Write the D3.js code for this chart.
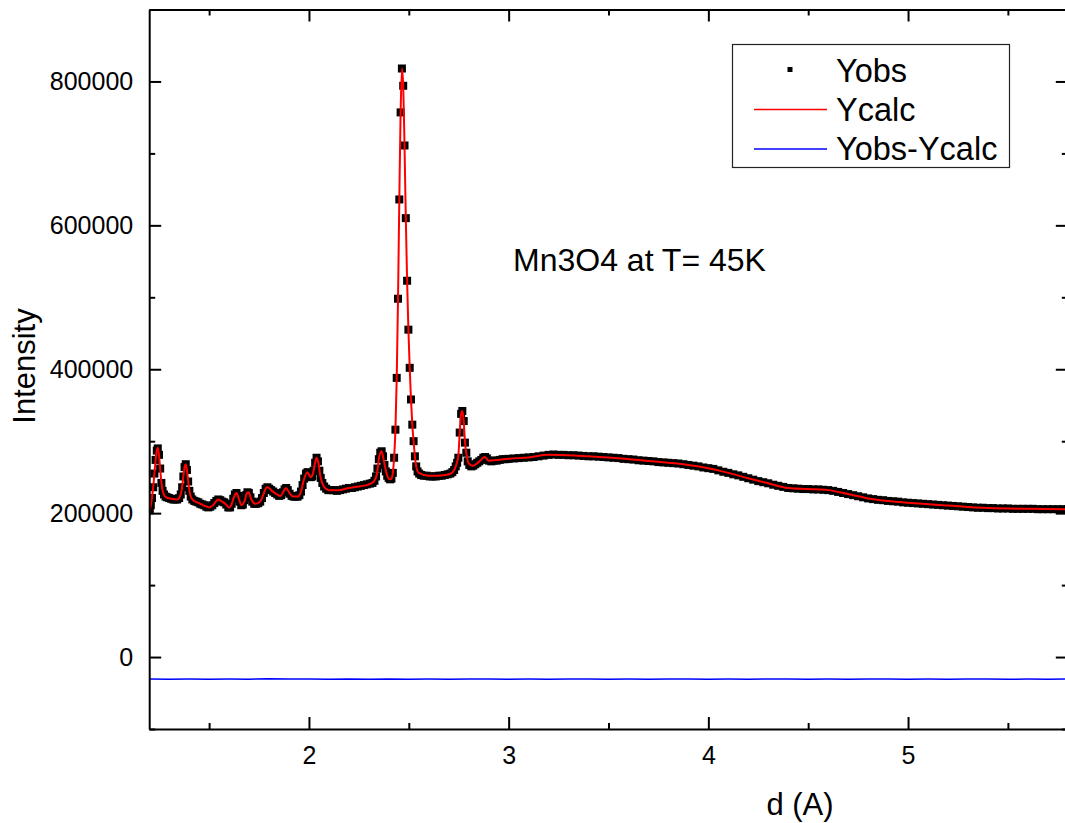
<!DOCTYPE html>
<html>
<head>
<meta charset="utf-8">
<script src="https://cdn.jsdelivr.net/npm/d3@7"></script>
<style>
  body { margin: 0; background: #fff; }
  text { font-family: "Liberation Sans", Arial, sans-serif; }
</style>
</head>
<body>
<div id="chart"></div>
<script>
// intensities are in units of 1000 counts, d in Angstrom
var yObs = [
  [1.203,204],[1.208,211],[1.214,221],[1.22,236],[1.226,255],[1.232,274],[1.238,287],[1.243,290],[1.249,281],[1.255,262],
  [1.261,242],[1.267,231],[1.274,226],[1.282,223],[1.29,222],[1.3,221],[1.31,220],[1.32,219],[1.33,219],[1.34,219],
  [1.35,221],[1.358,226],[1.365,236],[1.371,251],[1.377,264],[1.383,268],[1.389,260],[1.395,244],[1.401,231],[1.408,223],
  [1.416,219],[1.426,217],[1.436,216],[1.446,215],[1.456,213],[1.466,212],[1.476,211],[1.486,209],[1.496,208],[1.506,209],
  [1.516,211],[1.526,214],[1.536,217],[1.546,219],[1.556,218],[1.566,216],[1.576,215],[1.586,212],[1.596,208],[1.605,208],
  [1.613,213],[1.621,220],[1.629,226],[1.637,228],[1.645,224],[1.653,216],[1.661,211],[1.669,212],[1.677,218],[1.685,225],
  [1.692,229],[1.699,228],[1.707,222],[1.716,216],[1.726,213],[1.736,213],[1.746,214],[1.756,216],[1.765,221],[1.774,228],
  [1.783,234],[1.792,236],[1.801,234],[1.811,232],[1.821,230],[1.831,228],[1.841,226],[1.851,224],[1.861,225],[1.87,229],
  [1.878,233],[1.886,235],[1.894,232],[1.903,227],[1.913,224],[1.923,223],[1.933,223],[1.943,223],[1.952,225],[1.96,230],
  [1.968,239],[1.976,248],[1.985,255],[1.993,257],[2.001,254],[2.009,250],[2.017,251],[2.024,259],[2.031,270],[2.038,277],
  [2.045,272],[2.052,259],[2.059,249],[2.067,242],[2.076,237],[2.086,234],[2.097,232],[2.11,232],[2.125,232],[2.14,231],
  [2.155,232],[2.17,233],[2.185,234],[2.2,235],[2.215,235],[2.23,236],[2.245,237],[2.26,238],[2.275,239],[2.29,240],
  [2.305,241],[2.318,242],[2.328,245],[2.336,251],[2.343,262],[2.35,275],[2.357,284],[2.364,286],[2.371,279],[2.378,267],
  [2.385,258],[2.392,252],[2.399,249],[2.406,247],[2.413,248],[2.42,256],[2.4265,277],[2.433,316],[2.4395,388],[2.446,498],
  [2.4525,636],[2.459,757],[2.4655,818],[2.472,794],[2.4785,711],[2.485,610],[2.4915,523],[2.498,455],[2.5045,402],[2.511,358],
  [2.5175,323],[2.524,300],[2.5305,279],[2.537,265],[2.544,258],[2.552,255],[2.562,253],[2.575,252],[2.59,252],[2.605,251],
  [2.62,251],[2.635,251],[2.65,252],[2.665,252],[2.68,253],[2.695,254],[2.708,255],[2.718,257],[2.727,260],[2.735,265],
  [2.742,270],[2.748,277],[2.755,312],[2.762,338],[2.768,342],[2.775,328],[2.781,298],[2.788,284],[2.795,272],[2.803,267],
  [2.813,265],[2.823,266],[2.833,268],[2.843,270],[2.853,272],[2.863,274],[2.873,277],[2.882,278],[2.891,276],[2.901,273],
  [2.913,272],[2.926,273],[2.94,273],[2.955,274],[2.97,275],[2.985,275],
  [3.0,275.5],[3.025,276],[3.05,276.5],[3.075,277],[3.1,277.5],[3.125,278],[3.15,279],[3.175,280],[3.2,281],[3.225,281.5],
  [3.25,281],[3.275,281],[3.3,280.5],[3.325,280.5],[3.35,280],[3.375,279.5],[3.4,279],[3.425,279],[3.45,278.5],[3.475,278],
  [3.5,277.5],[3.525,277],[3.55,276.5],[3.575,275.5],[3.6,275],[3.625,274.5],[3.65,273.5],[3.675,273],[3.7,272.5],[3.725,272],
  [3.75,271],[3.775,270.5],[3.8,270],[3.825,269.5],[3.85,269],[3.875,268],[3.9,267],[3.925,266],[3.95,265],[3.975,263.5],
  [4.0,262.5],[4.025,261.5],[4.05,259.5],[4.075,257.5],[4.1,256],[4.125,254],[4.15,252.5],[4.175,250.5],[4.2,248.5],[4.225,246.5],
  [4.25,244.5],[4.275,243],[4.3,241.5],[4.325,239.5],[4.35,238],[4.375,236.5],[4.4,235],[4.425,234.5],[4.45,234],[4.475,233.5],
  [4.5,233.5],[4.525,233],[4.55,233],[4.575,232.5],[4.6,232],[4.625,231],[4.65,229.5],[4.675,228],[4.7,226.5],[4.725,225],
  [4.75,223.5],[4.775,222],[4.8,220.5],[4.825,219.5],[4.85,218.5],[4.875,218],[4.9,217],[4.925,216.5],[4.95,216],[4.975,215],
  [5.0,214.5],[5.025,214],[5.05,213.5],[5.075,213],[5.1,212.5],[5.125,212],[5.15,211.5],[5.175,211],[5.2,210.5],[5.225,210],
  [5.25,209.5],[5.275,209],[5.3,208.5],[5.325,208],[5.35,207.5],[5.375,207.5],[5.4,207],[5.425,207],[5.45,206.5],[5.475,206.5],
  [5.5,206.5],[5.525,206],[5.55,206],[5.575,206],[5.6,206],[5.625,206],[5.65,205.5],[5.675,205.5],[5.7,205.5],[5.725,205.5],
  [5.75,205.5],[5.775,205.5],[5.8,205.5]
];

var yCalc = [
  [1.2,200],[1.21,214],[1.22,236],[1.23,267],[1.238,287],[1.243,291],[1.249,281],[1.256,258],[1.263,238],[1.272,227],
  [1.285,222],[1.31,220],[1.34,219],[1.352,222],[1.362,231],[1.371,251],[1.378,265],[1.383,268],[1.389,260],[1.397,240],
  [1.406,225],[1.42,218],[1.45,214],[1.48,210],[1.5,208],[1.52,211],[1.545,219],[1.565,216],[1.585,212],[1.6,208],
  [1.612,212],[1.625,223],[1.637,228],[1.65,219],[1.662,211],[1.675,215],[1.69,228],[1.698,229],[1.71,220],[1.73,213],
  [1.755,216],[1.772,226],[1.785,235],[1.793,236],[1.81,232],[1.84,226],[1.858,224],[1.872,230],[1.885,235],[1.9,229],
  [1.92,223],[1.945,223],[1.96,230],[1.975,247],[1.992,257],[2.008,250],[2.02,255],[2.03,269],[2.038,277],[2.047,270],
  [2.058,250],[2.075,237],[2.1,232],[2.15,232],[2.2,235],[2.25,237],[2.3,240],[2.325,244],[2.34,254],[2.352,278],
  [2.363,286],[2.373,276],[2.387,257],[2.403,247],[2.413,248],[2.42,256],[2.4265,277],[2.433,316],[2.4395,388],[2.446,498],
  [2.4525,636],[2.459,757],[2.4655,818],[2.472,794],[2.4785,711],[2.485,610],[2.4915,523],[2.498,455],[2.5045,402],[2.511,358],
  [2.5175,323],[2.524,300],[2.5305,279],[2.537,265],[2.55,256],[2.6,252],[2.65,252],[2.7,254],[2.72,257],[2.735,265],
  [2.748,280],[2.755,312],[2.762,338],[2.768,342],[2.775,328],[2.781,300],[2.79,280],[2.8,269],[2.82,266],[2.85,271],
  [2.88,278],[2.9,273],[2.95,274],[3.0,275.5],[3.1,277.5],[3.2,281],[3.3,280.5],[3.4,279],[3.5,277.5],[3.6,275],
  [3.7,272.5],[3.8,270],[3.9,267],[4.0,262.5],[4.1,256],[4.2,248.5],[4.3,241.5],[4.4,235],[4.5,233.5],[4.6,232],
  [4.7,226.5],[4.8,220.5],[4.9,217],[5.0,214.5],[5.2,210.5],[5.4,207],[5.6,206],[5.8,205.5]
];

var yDiff = [
  [1.2,-30.4],[1.3,-30.9],[1.4,-30.6],[1.5,-30.8],[1.6,-30.5],[1.7,-30.7],[1.8,-30.3],[1.9,-30.6],[2.0,-30.4],[2.1,-30.8],
  [2.2,-30.5],[2.3,-30.9],[2.4,-30.4],[2.5,-30.7],[2.6,-30.5],[2.7,-30.8],[2.8,-30.6],[2.9,-30.4],[3.0,-30.7],[3.1,-30.5],
  [3.2,-30.9],[3.3,-30.6],[3.4,-30.4],[3.5,-30.8],[3.6,-30.5],[3.7,-30.7],[3.8,-30.4],[3.9,-30.6],[4.0,-30.9],[4.1,-30.5],
  [4.2,-30.7],[4.3,-30.4],[4.4,-30.6],[4.5,-30.8],[4.6,-30.5],[4.7,-30.7],[4.8,-30.4],[4.9,-30.6],[5.0,-30.8],[5.1,-30.5],
  [5.2,-30.7],[5.3,-30.4],[5.4,-30.6],[5.5,-30.9],[5.6,-30.5],[5.7,-30.7],[5.8,-30.6]
];

var xMajorTicks = [2, 3, 4, 5];
var xMinorTicks = [1.5, 2.5, 3.5, 4.5, 5.5];
var yMajorTicks = [0, 200000, 400000, 600000, 800000];
var yMinorTicks = [-100000, 100000, 300000, 500000, 700000, 900000];

var legendItems = ["Yobs", "Ycalc", "Yobs-Ycalc"];
var annotation = "Mn3O4 at T= 45K";

var width = 1065, height = 823;
var plot = { left: 149.2, right: 1067.8, top: 9.5, bottom: 729 };

var svg = d3.select("#chart").append("svg")
    .attr("width", width)
    .attr("height", height);

var x = d3.scaleLinear().domain([1.2, 5.8]).range([plot.left, plot.right]);
var y = d3.scaleLinear().domain([-100000, 900000]).range([plot.bottom, plot.top]);

svg.append("clipPath").attr("id", "clip")
    .append("rect")
    .attr("x", plot.left).attr("y", plot.top)
    .attr("width", plot.right - plot.left).attr("height", plot.bottom - plot.top);

var dataG = svg.append("g").attr("clip-path", "url(#clip)");

// observed points, black squares
var sq = 8;
dataG.selectAll("rect.obs")
    .data(yObs)
    .enter()
    .append("rect")
    .attr("class", "obs")
    .attr("x", function (d) { return x(d[0]) - sq / 2; })
    .attr("y", function (d) { return y(d[1] * 1000) - sq / 2; })
    .attr("width", sq)
    .attr("height", sq)
    .attr("fill", "#000");

var line = d3.line()
    .x(function (d) { return x(d[0]); })
    .y(function (d) { return y(d[1] * 1000); })
    .curve(d3.curveMonotoneX);

dataG.append("path")
    .datum(yCalc)
    .attr("d", line)
    .attr("fill", "none")
    .attr("stroke", "#ff0000")
    .attr("stroke-width", 2);

dataG.append("path")
    .datum(yDiff)
    .attr("d", line.curve(d3.curveLinear))
    .attr("fill", "none")
    .attr("stroke", "#0000ff")
    .attr("stroke-width", 1.5);

// axes, ticks inside
var styleAxis = function (g) {
    g.select(".domain").attr("stroke", "#000").attr("stroke-width", 2);
    g.selectAll(".tick line").attr("stroke", "#000").attr("stroke-width", 2);
    g.selectAll("text")
        .attr("fill", "#000")
        .style("font-size", "25px");
};

var addAxis = function (gen, scale, majors, minors, tx, ty, pad) {
    var g = svg.append("g").attr("transform", "translate(" + tx + "," + ty + ")");
    g.call(gen(scale).tickValues(majors).tickSize(-12).tickSizeOuter(0)
        .tickPadding(pad || 0)
        .tickFormat(pad ? d3.format("d") : ""));
    styleAxis(g);
    var m = svg.append("g").attr("transform", "translate(" + tx + "," + ty + ")");
    m.call(gen(scale).tickValues(minors).tickSize(-6).tickSizeOuter(0).tickFormat(""));
    styleAxis(m);
    m.select(".domain").remove();
    return g;
};

var xb = addAxis(d3.axisBottom, x, xMajorTicks, xMinorTicks, 0, plot.bottom, 35);
xb.selectAll("text").attr("dy", "0");
addAxis(d3.axisTop, x, xMajorTicks, xMinorTicks, 0, plot.top, 0);
var yl = addAxis(d3.axisLeft, y, yMajorTicks, yMinorTicks, plot.left, 0, 16);
addAxis(d3.axisRight, y, yMajorTicks, yMinorTicks, plot.right, 0, 0);

// axis titles
svg.append("text")
    .attr("x", 800)
    .attr("y", 815)
    .attr("text-anchor", "middle")
    .style("font-size", "31px")
    .text("d (A)");

svg.append("text")
    .attr("transform", "translate(35,366) rotate(-90)")
    .attr("text-anchor", "middle")
    .style("font-size", "31px")
    .text("Intensity");

// annotation
svg.append("text")
    .attr("x", 513)
    .attr("y", 271)
    .style("font-size", "32px")
    .text(annotation);

// legend
var legend = svg.append("g");
legend.append("rect")
    .attr("x", 732.5).attr("y", 44.5)
    .attr("width", 277).attr("height", 123)
    .attr("fill", "#fff")
    .attr("stroke", "#222")
    .attr("stroke-width", 1.2);

legend.append("rect")
    .attr("x", 787.5).attr("y", 67)
    .attr("width", 5).attr("height", 5)
    .attr("fill", "#000");
legend.append("line")
    .attr("x1", 754).attr("x2", 827).attr("y1", 109.5).attr("y2", 109.5)
    .attr("stroke", "#ff0000").attr("stroke-width", 1.5);
legend.append("line")
    .attr("x1", 754).attr("x2", 827).attr("y1", 149).attr("y2", 149)
    .attr("stroke", "#0000ff").attr("stroke-width", 1.5);

var legendBase = [82, 121, 160];
legend.selectAll("text.leg")
    .data(legendItems)
    .enter()
    .append("text")
    .attr("class", "leg")
    .attr("x", 836)
    .attr("y", function (d, i) { return legendBase[i]; })
    .style("font-size", "32.5px")
    .text(function (d) { return d; });
</script>
</body>
</html>
